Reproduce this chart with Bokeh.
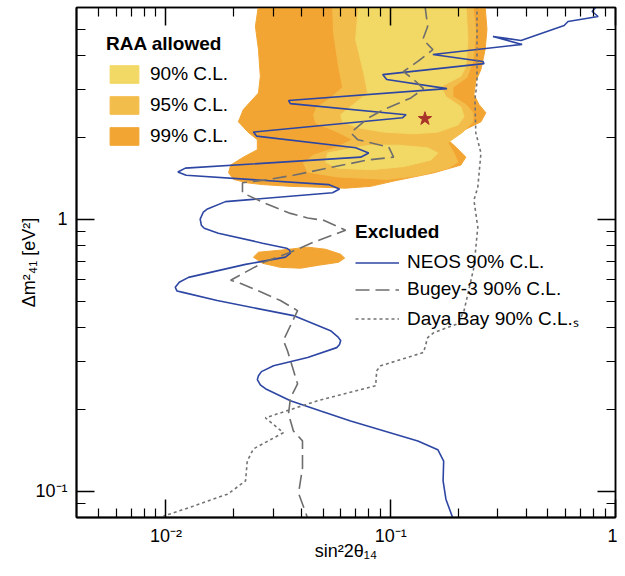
from bokeh.plotting import figure
from bokeh.models import LogAxis, FixedTicker, Legend, LegendItem
from bokeh.core.properties import value
from bokeh.embed import file_html
from bokeh.resources import INLINE

# ---------------- data (sin^2 2theta14, dm^2_41 [eV^2]) ----------------
cl99_x = [0.0258, 0.0250, 0.0258, 0.0263, 0.0258, 0.0221, 0.0210, 0.0233, 0.0255, 0.0255,
          0.0221, 0.0194, 0.0190, 0.0200, 0.0230, 0.0269, 0.0358, 0.0488, 0.0630, 0.0814,
          0.103, 0.1555, 0.205, 0.216, 0.195, 0.1795, 0.201, 0.252, 0.265, 0.247,
          0.2345, 0.239, 0.252, 0.263, 0.268, 0.263]
cl99_y = [6.1, 5.11, 4.20, 3.35, 2.91, 2.53, 2.28, 2.08, 1.96, 1.80,
          1.69, 1.58, 1.48, 1.40, 1.36, 1.34, 1.32, 1.31, 1.30, 1.32,
          1.38, 1.48, 1.58, 1.69, 1.84, 1.96, 2.08, 2.28, 2.46, 2.64,
          2.87, 3.21, 3.55, 4.20, 4.98, 6.1]

cl99_island_x = [0.0245, 0.0258, 0.0323, 0.0427, 0.0513, 0.0599, 0.0624, 0.0586, 0.0478, 0.0397,
                 0.0323, 0.0269]
cl99_island_y = [0.725, 0.756, 0.769, 0.789, 0.775, 0.743, 0.719, 0.694, 0.677, 0.660,
                 0.665, 0.688]

cl95_x = [0.0551, 0.0557, 0.0586, 0.0611, 0.0540, 0.0468, 0.0454, 0.0463, 0.0580, 0.0677,
          0.0569, 0.0454, 0.0409, 0.0427, 0.0580, 0.0970, 0.136, 0.1795, 0.199, 0.191,
          0.1795, 0.2095, 0.232, 0.232, 0.216, 0.189, 0.189, 0.218, 0.232, 0.239, 0.232]
cl95_y = [6.1, 4.85, 3.64, 3.05, 2.79, 2.57, 2.42, 2.26, 2.09, 1.96,
          1.83, 1.72, 1.61, 1.49, 1.43, 1.40, 1.45, 1.54, 1.62, 1.75,
          1.91, 2.09, 2.28, 2.46, 2.64, 2.82, 3.05, 3.32, 3.80, 4.85, 6.1]

cl90_upper_x = [0.0720, 0.0698, 0.0758, 0.0790, 0.0663, 0.0599, 0.0611, 0.0713, 0.0931, 0.127,
                0.162, 0.199, 0.212, 0.205, 0.176, 0.167, 0.205, 0.216, 0.2205, 0.216]
cl90_upper_y = [6.1, 4.58, 3.46, 2.91, 2.59, 2.42, 2.28, 2.17, 2.09, 2.06,
                2.09, 2.22, 2.38, 2.59, 2.82, 3.07, 3.35, 3.64, 4.58, 6.1]

cl90_lower_x = [0.0713, 0.0524, 0.0513, 0.0580, 0.0814, 0.114, 0.151, 0.162, 0.146, 0.1075, 0.0814]
cl90_lower_y = [1.84, 1.75, 1.62, 1.54, 1.52, 1.56, 1.65, 1.75, 1.83, 1.87, 1.87]

neos_x = [0.83, 0.787, 0.837, 0.615, 0.591, 0.380, 0.285, 0.384, 0.154, 0.257,
          0.260, 0.0921, 0.096, 0.178, 0.0351, 0.0358, 0.117, 0.113, 0.0245, 0.0253,
          0.0698, 0.0798, 0.0735, 0.0122, 0.0113, 0.0123, 0.0529, 0.0592, 0.0551, 0.0184,
          0.0153, 0.01467, 0.0142, 0.01437, 0.0148, 0.0171, 0.0269, 0.0344, 0.0355, 0.0358,
          0.0340, 0.0226, 0.0126, 0.01146, 0.0110, 0.0112, 0.0119, 0.0169, 0.0369, 0.0540,
          0.0580, 0.0599, 0.0592, 0.0575, 0.0427, 0.0301, 0.0266, 0.0258, 0.0255, 0.0263,
          0.0277, 0.0358, 0.0488, 0.0663, 0.132, 0.162, 0.172, 0.171, 0.176, 0.189]
neos_y = [6.1, 5.80, 5.56, 5.33, 5.15, 4.54, 4.69, 4.39, 4.03, 3.80,
          3.73, 3.40, 3.26, 3.02, 2.73, 2.66, 2.42, 2.36, 2.09, 2.02,
          1.83, 1.75, 1.69, 1.54, 1.49, 1.45, 1.34, 1.29, 1.25, 1.16,
          1.09, 1.062, 1.00, 0.950, 0.926, 0.888, 0.816, 0.782, 0.769, 0.750,
          0.725, 0.682, 0.611, 0.586, 0.562, 0.544, 0.538, 0.502, 0.442, 0.389,
          0.370, 0.358, 0.346, 0.337, 0.310, 0.289, 0.275, 0.2655, 0.257, 0.246,
          0.238, 0.215, 0.197, 0.181, 0.153, 0.142, 0.129, 0.109, 0.0934, 0.0795]

bugey_x = [0.142, 0.146, 0.139, 0.154, 0.132, 0.114, 0.129, 0.140, 0.123, 0.0931,
           0.0798, 0.0663, 0.0713, 0.098, 0.103, 0.0790, 0.0524, 0.0369, 0.0272, 0.0219,
           0.0219, 0.0272, 0.0358, 0.0427, 0.0503, 0.0630, 0.0454, 0.0358, 0.0272, 0.0194,
           0.0214, 0.0255, 0.0323, 0.0385, 0.0333, 0.0347, 0.0385, 0.0358, 0.0351, 0.0369,
           0.0405, 0.0405, 0.0389, 0.0427]
bugey_y = [6.1, 5.11, 4.58, 4.20, 3.80, 3.49, 3.21, 3.02, 2.79, 2.53,
           2.36, 2.08, 1.96, 1.84, 1.69, 1.65, 1.54, 1.45, 1.39, 1.36,
           1.25, 1.15, 1.05, 1.01, 0.99, 0.911, 0.823, 0.756, 0.694, 0.596,
           0.581, 0.547, 0.502, 0.461, 0.358, 0.329, 0.248, 0.220, 0.192, 0.1665,
           0.153, 0.1216, 0.0983, 0.0795]

dayabay_x = [0.242, 0.242, 0.237, 0.239, 0.252, 0.244, 0.2345, 0.244, 0.2345, 0.212,
             0.199, 0.1555, 0.146, 0.140, 0.0902, 0.0866, 0.0857, 0.0473, 0.0277, 0.0333,
             0.0245, 0.0230, 0.0226, 0.0188, 0.0132, 0.00973]
dayabay_y = [6.1, 3.18, 2.75, 2.08, 1.75, 1.31, 1.175, 0.934, 0.665, 0.461,
             0.413, 0.3825, 0.367, 0.3235, 0.289, 0.277, 0.244, 0.215, 0.186, 0.164,
             0.143, 0.129, 0.109, 0.0975, 0.088, 0.0809]

best_fit_x = [0.142]
best_fit_y = [2.34]

x_major_ticks = [0.01, 0.1, 1.0]
x_minor_ticks = [0.005, 0.006, 0.007, 0.008, 0.009, 0.02, 0.03, 0.04, 0.05, 0.06, 0.07, 0.08, 0.09,
                 0.2, 0.3, 0.4, 0.5, 0.6, 0.7, 0.8, 0.9]
x_tick_labels = ["10\u207b\u00b2", "10\u207b\u00b9", "1"]
y_major_ticks = [0.1, 1.0]
y_minor_ticks = [0.09, 0.2, 0.3, 0.4, 0.5, 0.6, 0.7, 0.8, 0.9, 2, 3, 4, 5]
y_tick_labels = ["10\u207b\u00b9", "1"]

# ---------------- style ----------------
FONT = "Liberation Sans"
C99, C95, C90 = "#f2a533", "#f3bd4b", "#f2d865"
NEOS_C, BUGEY_C, DAYA_C = "#2d46a3", "#6e6e6e", "#737373"

p = figure(width=617, height=563, x_axis_type="log", y_axis_type="log",
           x_range=(0.004, 1.0), y_range=(0.08, 6.0),
           output_backend="svg", toolbar_location=None,
           min_border_left=76, min_border_right=2, min_border_top=7, min_border_bottom=30)
p.grid.visible = False
p.background_fill_color = "white"
p.border_fill_color = "white"
p.outline_line_color = "black"
p.outline_line_width = 1.5

xt = FixedTicker(ticks=x_major_ticks, minor_ticks=x_minor_ticks)
yt = FixedTicker(ticks=y_major_ticks, minor_ticks=y_minor_ticks)


def style_axis(ax):
    ax.major_tick_in = 18
    ax.major_tick_out = 0
    ax.minor_tick_in = 9
    ax.minor_tick_out = 0
    ax.major_tick_line_width = 1.5
    ax.minor_tick_line_width = 1.2
    ax.major_tick_line_color = "black"
    ax.minor_tick_line_color = "black"
    ax.axis_line_color = "black"
    ax.axis_line_width = 2
    ax.major_label_text_font = FONT
    ax.major_label_text_font_size = "18px"
    ax.major_label_text_color = "black"
    ax.axis_label_text_font = FONT
    ax.axis_label_text_font_size = "18px"
    ax.axis_label_text_font_style = "normal"
    ax.axis_label_text_color = "black"


xa = p.xaxis[0]
xa.ticker = xt
xa.major_label_overrides = {t: s for t, s in zip(x_major_ticks, x_tick_labels)}
xa.axis_label = "sin\u00b22\u03b8\u2081\u2084"
xa.major_label_standoff = 8
xa.axis_label_standoff = -8
style_axis(xa)

ya = p.yaxis[0]
ya.ticker = yt
ya.major_label_overrides = {t: s for t, s in zip(y_major_ticks, y_tick_labels)}
ya.axis_label = "\u0394m\u00b2\u2084\u2081 [eV\u00b2]"
ya.major_label_standoff = 9
ya.axis_label_standoff = -7
ya.major_label_orientation = "horizontal"
style_axis(ya)

# top / right axes: ticks only (labels tiny and transparent)
top_ax = LogAxis(ticker=FixedTicker(ticks=x_major_ticks, minor_ticks=x_minor_ticks))
style_axis(top_ax)
top_ax.major_label_text_font_size = "1px"
top_ax.major_label_text_alpha = 0
top_ax.major_label_standoff = 0
top_ax.axis_line_width = 1.5
p.add_layout(top_ax, "above")
right_ax = LogAxis(ticker=FixedTicker(ticks=y_major_ticks, minor_ticks=y_minor_ticks))
style_axis(right_ax)
right_ax.major_label_text_font_size = "1px"
right_ax.major_label_text_alpha = 0
right_ax.major_label_standoff = 0
right_ax.axis_line_width = 1.5
p.add_layout(right_ax, "right")

# ---------------- regions ----------------
r99 = p.patch(cl99_x, cl99_y, fill_color=C99, line_color=C99, line_width=1)
p.patch(cl99_island_x, cl99_island_y, fill_color=C99, line_color=C99, line_width=1)
r95 = p.patch(cl95_x, cl95_y, fill_color=C95, line_color=C95, line_width=1)
r90 = p.patch(cl90_upper_x, cl90_upper_y, fill_color=C90, line_color=C90, line_width=1)
p.patch(cl90_lower_x, cl90_lower_y, fill_color=C90, line_color=C90, line_width=1)

# ---------------- exclusion curves ----------------
r_neos = p.line(neos_x, neos_y, line_color=NEOS_C, line_width=1.6)
r_bugey = p.line(bugey_x, bugey_y, line_color=BUGEY_C, line_width=1.6, line_dash="14 6")
r_daya = p.line(dayabay_x, dayabay_y, line_color=DAYA_C, line_width=1.6, line_dash="3 3")

p.scatter(best_fit_x, best_fit_y, marker="star", size=14, fill_color="#a9342a", line_color="#a9342a")

# ---------------- legends ----------------
leg1 = Legend(items=[LegendItem(label=value("90% C.L."), renderers=[r90]),
                     LegendItem(label=value("95% C.L."), renderers=[r95]),
                     LegendItem(label=value("99% C.L."), renderers=[r99])],
              title="RAA allowed", location=(30, 370))
leg2 = Legend(items=[LegendItem(label=value("NEOS 90% C.L."), renderers=[r_neos]),
                     LegendItem(label=value("Bugey-3 90% C.L."), renderers=[r_bugey]),
                     LegendItem(label=value("Daya Bay 90% C.L.\u209b"), renderers=[r_daya])],
              title="Excluded", location=(279, 186))
for lg, gw, gh, sp in ((leg1, 36, 22, 9), (leg2, 44, 19, 5)):
    lg.glyph_width = gw
    lg.glyph_height = gh
    lg.label_height = gh
    lg.spacing = sp
    lg.label_standoff = 8
    lg.padding = 0
    lg.margin = 0
    lg.border_line_color = None
    lg.background_fill_alpha = 0
    lg.label_text_font = FONT
    lg.label_text_font_size = "19px"
    lg.label_text_color = "black"
    lg.title_text_font = FONT
    lg.title_text_font_size = "19px"
    lg.title_text_font_style = "bold"
    lg.title_text_color = "black"
    lg.title_standoff = 8
    p.add_layout(lg)

open("out.html", "w").write(file_html(p, INLINE))
